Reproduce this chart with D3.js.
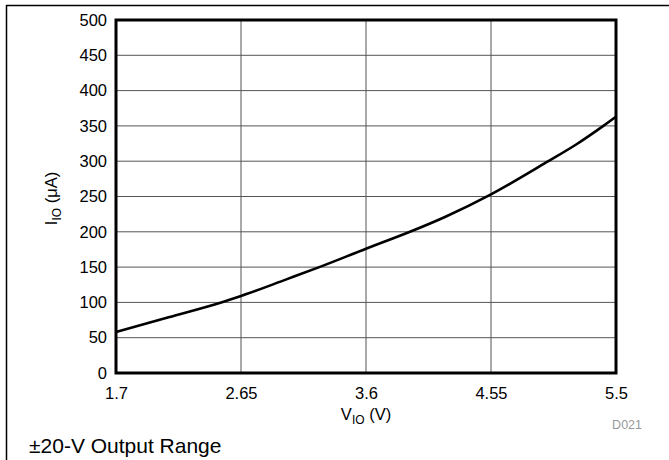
<!DOCTYPE html>
<html><head><meta charset="utf-8">
<script src="https://cdn.jsdelivr.net/npm/d3@7"></script>
<style>body{margin:0;background:#fff}svg{display:block;font-family:Arial,"Liberation Sans",sans-serif}</style>
</head><body><svg id="c" width="669" height="460"></svg>
<script>
const vio = [1.7, 2.1, 2.5, 2.65, 3.0, 3.245, 3.6, 3.934, 4.2, 4.55, 4.986, 5.2, 5.404, 5.5];
const iio = [58, 79, 100, 109, 133, 150, 176, 200, 221, 253, 300, 324, 350, 363];
const xTicks = [1.7, 2.65, 3.6, 4.55, 5.5];
const xTickLabels = ["1.7", "2.65", "3.6", "4.55", "5.5"];
const yTicks = [0, 50, 100, 150, 200, 250, 300, 350, 400, 450, 500];

const svg = d3.select("#c");
const L = 116, R = 616, T = 20, B = 373;
const x = d3.scaleLinear().domain([1.7, 5.5]).range([L, R]);
const y = d3.scaleLinear().domain([0, 500]).range([B, T]);

// outer frame
svg.append("line").attr("x1", 6).attr("x2", 669).attr("y1", 5.5).attr("y2", 5.5).attr("stroke", "#000").attr("stroke-width", 1.5);
svg.append("line").attr("x1", 6.5).attr("x2", 6.5).attr("y1", 5).attr("y2", 460).attr("stroke", "#000").attr("stroke-width", 1.5);

// gridlines
svg.append("g").selectAll("line").data(yTicks.slice(1, -1)).join("line")
  .attr("x1", L).attr("x2", R).attr("y1", d => y(d)).attr("y2", d => y(d))
  .attr("stroke", "#555").attr("stroke-width", 1);
svg.append("g").selectAll("line").data(xTicks.slice(1, -1)).join("line")
  .attr("y1", T).attr("y2", B).attr("x1", d => x(d)).attr("x2", d => x(d))
  .attr("stroke", "#555").attr("stroke-width", 1);

// axes labels via d3 axes
const yAxis = d3.axisLeft(y).tickValues(yTicks).tickSize(0).tickPadding(9);
const gy = svg.append("g").attr("transform", `translate(${L},0)`).call(yAxis);
gy.select(".domain").remove();
gy.selectAll("text").attr("font-size", 16.5).attr("fill", "#000").attr("font-family", "Arial, 'Liberation Sans', sans-serif");

const xAxis = d3.axisBottom(x).tickValues(xTicks).tickFormat((d, i) => xTickLabels[i]).tickSize(0).tickPadding(14);
const gx = svg.append("g").attr("transform", `translate(0,${B})`).call(xAxis);
gx.select(".domain").remove();
gx.selectAll("text").attr("font-size", 16.5).attr("fill", "#000").attr("font-family", "Arial, 'Liberation Sans', sans-serif");

// curve
const line = d3.line().x((d, i) => x(vio[i])).y((d, i) => y(iio[i])).curve(d3.curveMonotoneX);
svg.append("path").datum(iio).attr("d", line).attr("fill", "none").attr("stroke", "#000").attr("stroke-width", 2.6);

// plot border
svg.append("rect").attr("x", L).attr("y", T).attr("width", R - L).attr("height", B - T)
  .attr("fill", "none").attr("stroke", "#000").attr("stroke-width", 3);

// axis titles
const xt = svg.append("text").attr("x", x(3.6)).attr("y", 420).attr("text-anchor", "middle").attr("font-size", 16.5);
xt.append("tspan").text("V");
xt.append("tspan").attr("font-size", 12).attr("dy", 4).text("IO");
xt.append("tspan").attr("dy", -4).text(" (V)");

const yt = svg.append("text").attr("transform", `translate(57,${y(250) + 2}) rotate(-90)`).attr("text-anchor", "middle").attr("font-size", 16.5);
yt.append("tspan").text("I");
yt.append("tspan").attr("font-size", 12).attr("dy", 4).text("IO");
yt.append("tspan").attr("dy", -4).text(" (\u03BCA)");

svg.append("text").attr("x", 642).attr("y", 429).attr("text-anchor", "end").attr("font-size", 12.5).attr("fill", "#999").text("D021");
svg.append("text").attr("x", 29).attr("y", 453).attr("font-size", 21).attr("fill", "#000").text("\u00B120-V Output Range");
</script></body></html>
